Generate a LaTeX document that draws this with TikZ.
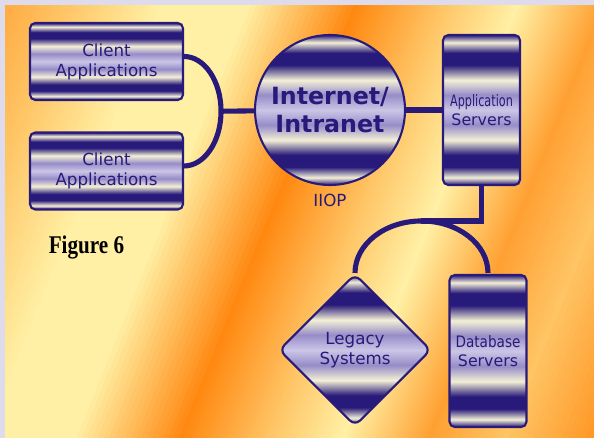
\documentclass[tikz,border=0pt]{standalone}
\usepackage{fontspec}
\usepackage{graphicx}
\setmainfont{Liberation Serif}
\newfontfamily\labfont{DejaVu Sans}
\usetikzlibrary{shapes.geometric,positioning}

\definecolor{navy}{RGB}{40,26,122}
\definecolor{cream}{RGB}{244,240,214}
\definecolor{lav}{RGB}{150,140,200}
\definecolor{lavlt}{RGB}{204,198,230}
\definecolor{frame}{RGB}{222,219,236}
\definecolor{bgO}{RGB}{255,160,50}
\definecolor{bgL}{RGB}{255,196,100}
\definecolor{bgP}{RGB}{255,240,165}
\definecolor{bgD}{RGB}{255,136,16}

% striped metal look of the boxes
\pgfdeclareverticalshading{chrome}{100bp}{color(0bp)=(navy); color(25bp)=(navy);
  color(27.5bp)=(cream); color(31bp)=(navy); color(35bp)=(navy); color(40bp)=(cream);
  color(45bp)=(lav); color(50bp)=(lavlt); color(55bp)=(lav); color(60bp)=(cream);
  color(65bp)=(navy); color(69bp)=(navy); color(72.5bp)=(cream); color(75bp)=(navy);
  color(100bp)=(navy)}

\tikzset{
  metal/.style={draw=navy, line width=1.2pt, shading=chrome, text=navy,
    font=\labfont\fontsize{9.5}{11.3}\selectfont, align=center, inner sep=0pt},
  hcyl/.style={metal, rectangle, rounded corners=3pt, minimum width=3.06cm, minimum height=1.54cm},
  vcyl/.style={metal, rectangle, rounded corners=3pt, minimum width=1.54cm, minimum height=3cm,
    font=\labfont\fontsize{9}{10.8}\selectfont},
  wire/.style={draw=navy, line width=2.9pt},
}

\begin{document}
\begin{tikzpicture}[x=0.02cm, y=-0.02cm]
  \useasboundingbox (0,0) rectangle (594,438);
  \fill[frame] (0,0) rectangle (594,438);
  \begin{scope}
    \clip (5,6) rectangle (594,438);
    \begin{scope}[rotate=-22]
      \foreach \a/\b/\ca/\cb in {-20/60/bgO/bgL, 60/150/bgL/bgP, 150/230/bgP/bgP,
          230/330/bgP/bgD, 330/410/bgD/bgL, 410/480/bgL/bgP, 480/560/bgP/bgO,
          560/630/bgO/bgL, 630/740/bgL/bgD}
        \foreach \i in {0,...,19}{
          \pgfmathsetmacro\s{\a+\i*(\b-\a)/20}
          \pgfmathsetmacro\w{(\b-\a)/20+0.5}
          \pgfmathtruncatemacro\p{5*\i}
          \fill[\cb!\p!\ca] (\s,-300) rectangle ++(\w,800);
        }
    \end{scope}
  \end{scope}

  \node[hcyl] (c1) at (106.5,61.5) {Client\\Applications};
  \node[hcyl] (c2) at (106.5,171) {Client\\Applications};
  \node[metal, circle, minimum size=3cm,
    font=\labfont\bfseries\fontsize{13.5}{16}\selectfont] (net) at (330,110) {Internet/\\Intranet};
  \node[vcyl] (app) at (481.5,110) {\scalebox{0.71}[1]{Application}\\Servers};
  \node[metal, diamond, rounded corners=4pt, minimum width=3.04cm, minimum height=3.04cm]
    (leg) at (355,350) {Legacy\\Systems};
  \node[vcyl, minimum height=3.04cm] (db) at (488,351) {\scalebox{0.86}[1]{Database}\\Servers};
  \node[below=0.16cm of net, inner sep=0pt, text=navy,
    font=\labfont\fontsize{9.5}{11}\selectfont] (iiop) {IIOP};
  \node[font=\bfseries\fontsize{14.5}{16}\selectfont] (fig) at (86.5,247) {\scalebox{0.83}[1]{Figure 6}};

  \draw[wire] ([yshift=0.1cm]c1.east) arc[start angle=90, end angle=0, x radius=0.74cm, y radius=1.095cm]
    coordinate (hub) arc[start angle=0, end angle=-90, x radius=0.74cm, y radius=1.095cm];
  \draw[wire] (hub) -- (net);
  \draw[wire] (net) -- (app);
  \draw[wire] (leg.north) arc[start angle=180, end angle=90, x radius=1.33cm, y radius=1.04cm]
    coordinate (apex) arc[start angle=90, end angle=0, x radius=1.33cm, y radius=1.04cm];
  \draw[wire] (app.south) |- (apex);
\end{tikzpicture}
\end{document}
